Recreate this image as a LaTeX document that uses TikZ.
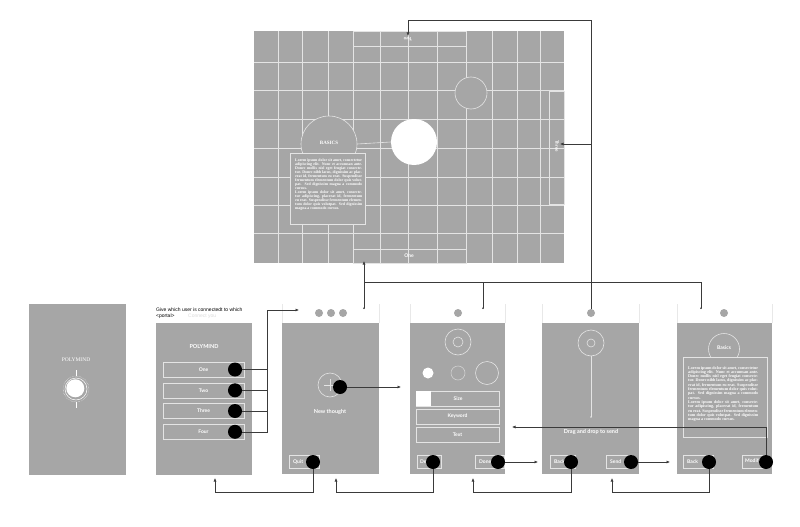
\documentclass[tikz,border=0pt]{standalone}
\usepackage{fontspec}
\setmainfont{Liberation Serif}
\newfontfamily\uisans{Lato}
\newfontfamily\hsans{Liberation Sans}
\newfontfamily\lorfont{Liberation Serif}
\usetikzlibrary{arrows.meta}
\definecolor{panel}{HTML}{A6A6A6}
\definecolor{wl}{HTML}{E4E4E4}
\definecolor{conn}{HTML}{3A3A3A}
\definecolor{hdr}{HTML}{E8E8E8}
\definecolor{faint}{HTML}{DADADA}
\newcommand{\lorem}{Lorem ipsum dolor sit amet, consectetur adipiscing elit. Nunc et accumsan ante. Donec mollis nisl eget feugiat consectetur. Donec nibh lacus, dignissim ac placerat id, fermentum eu erat. Suspendisse fermentum elementum dolor quis volutpat. Sed dignissim magna a commodo cursus.\\ Lorem ipsum dolor sit amet, consectetur adipiscing, placerat id, fermentum eu erat. Suspendisse fermentum elementum dolor quis volutpat. Sed dignissim magna a commodo cursus.}
\begin{document}
\begin{tikzpicture}[x=1pt,y=-1pt,
  scr/.style={fill=panel,draw=none,inner sep=0pt,outer sep=0pt},
  wbox/.style={draw=wl,line width=0.6pt,inner sep=0pt},
  btn/.style={draw=wl,line width=0.6pt,fill=panel,inner sep=0pt,text=white,font=\uisans\bfseries\fontsize{5}{6}\selectfont},
  lbl/.style={text=white,font=\uisans\bfseries\fontsize{5.5}{6}\selectfont,inner sep=0pt},
  blbl/.style={text=white,font=\uisans\bfseries\fontsize{5}{6}\selectfont,inner sep=0pt,anchor=west},
  bdot/.style={circle,fill=black,minimum size=14pt,inner sep=0pt},
  hdot/.style={circle,fill=panel,minimum size=8pt,inner sep=0pt},
  ring/.style={circle,draw=wl,line width=0.6pt,inner sep=0pt},
  conn/.style={draw=conn,line width=0.6pt},
  arr/.style={conn,-{Latex[length=3.5pt,width=3pt]}},
  tarr/.style={conn,{Circle[length=1.6pt]}-{Latex[length=3.5pt,width=3pt]}},
  gridl/.style={draw=wl,line width=0.5pt},
  hline/.style={draw=hdr,line width=0.7pt},
  lor/.style={text=white,font=\lorfont\bfseries\fontsize{3.9}{3.95}\selectfont,inner sep=0pt,align=justify},
]
\useasboundingbox (0,0) rectangle (800,527);
\fill[white] (0,0) rectangle (800,527);

% ---------- big panel ----------
\node[scr,minimum width=310pt,minimum height=232pt] (panel) at (409,147) {};
\foreach \x in {278,302,328,353,380,408,437,466,492,517,540} \draw[gridl] (\x,31) -- (\x,263);
\foreach \y in {62,90,119,148,177,205,233} \draw[gridl] (254,\y) -- (564,\y);
\node[wbox,minimum width=113pt,minimum height=15pt] (two) at (409.5,38.5) {};
\node[lbl,rotate=180,font=\uisans\bfseries\fontsize{4.5}{5}\selectfont] (twot) at (408,39) {Two};
\node[wbox,minimum width=15pt,minimum height=113pt] (three) at (556.5,147.5) {};
\node[lbl,rotate=-90,font=\uisans\bfseries\fontsize{4.5}{5}\selectfont] (threet) at (557,146) {Three};
\node[wbox,minimum width=113pt,minimum height=14pt] (one) at (409.5,256) {};
\node[lbl,font=\uisans\bfseries\fontsize{5}{6}\selectfont] (onet) at (409,256) {One};
\node[ring,fill=panel,minimum size=32pt] (smallc) at (471,93) {};
\node[ring,fill=panel,minimum size=56pt] (basicsc) at (329,144) {};
\node[circle,fill=white,minimum size=46pt,inner sep=0pt] (whitec) at (414,142) {};
\draw[wl,line width=0.6pt] (basicsc.east) -- (whitec.west);
\node[text=white,font=\lorfont\bfseries\fontsize{5}{6}\selectfont,inner sep=0pt] (basicst) at (329,143) {BASICS};
\node[wbox,fill=panel,minimum width=75pt,minimum height=71pt] (lbox) at (327.5,188.5) {};
\node[lor,anchor=north west,text width=67pt] (lt1) at (295,159) {\lorem};

% ---------- screen 1 ----------
\node[scr,minimum width=97pt,minimum height=171pt] (s1) at (77.5,389.5) {};
\node[text=white,font=\lorfont\fontsize{5.5}{6}\selectfont,inner sep=0pt] (pm1) at (76,360) {POLYMIND};
\draw[white,densely dotted,line width=0.4pt] (76,389) circle[radius=13pt];
\draw[white,line width=0.5pt] (76,389) circle[radius=11pt];
\fill[white] (75.3,388.3) circle[radius=9pt];
\draw[white,line width=0.4pt] (76,370) -- (76,376) (76,402) -- (76,408);

% ---------- screen 2 ----------
\node[scr,minimum width=96pt,minimum height=152pt] (s2) at (204,399) {};
\node[anchor=west,inner sep=0pt,font=\hsans\fontsize{5}{6}\selectfont] (q1) at (156,310) {Give which user is connectedt to which};
\node[anchor=west,inner sep=0pt,font=\hsans\fontsize{5}{6}\selectfont] (q2) at (156,316.5) {<portal>};
\node[anchor=west,inner sep=0pt,text=faint,font=\hsans\fontsize{5}{6}\selectfont] (q3) at (188,316.5) {Connect you};
\node[lbl] (pm2) at (204,347) {POLYMIND};
\node[btn,minimum width=81pt,minimum height=15pt] (bOne) at (203.5,369.5) {One};
\node[btn,minimum width=81pt,minimum height=15pt] (bTwo) at (203.5,390.3) {Two};
\node[btn,minimum width=81pt,minimum height=15pt] (bThree) at (203.5,411) {Three};
\node[btn,minimum width=81pt,minimum height=15pt] (bFour) at (203.5,431.8) {Four};
\node[bdot] (dOne) at (235,369.5) {};
\node[bdot] (dTwo) at (235,390.3) {};
\node[bdot] (dThree) at (235,411) {};
\node[bdot] (dFour) at (235,431.8) {};

% ---------- screen 3 ----------
\node[scr,minimum width=97pt,minimum height=151pt] (s3) at (330.5,398.5) {};
\draw[hline] (s3.north west) -- ++(0,-19) (s3.north east) -- ++(0,-19);
\node[hdot] (h3a) at (319,313) {};
\node[hdot] (h3b) at (331,313) {};
\node[hdot] (h3c) at (343,313) {};
\node[ring,minimum size=24pt] (plusc) at (330,385) {};
\draw[wl,line width=0.5pt] (324,385) -- (336,385) (330,379) -- (330,391);
\node[lbl] (nt) at (330,412) {New thought};
\node[btn,minimum width=30pt,minimum height=13pt] (bQuit) at (304,461.5) {};
\node[blbl] (tQuit) at (293,461.5) {Quit};

% ---------- screen 4 ----------
\node[scr,minimum width=95pt,minimum height=151pt] (s4) at (457.5,398.5) {};
\draw[hline] (s4.north west) -- ++(0,-19) (s4.north east) -- ++(0,-19);
\node[hdot] (h4a) at (458,313) {};
\node[ring,minimum size=26pt] (tg4) at (458,342) {};
\node[ring,minimum size=10pt] (tg4i) at (458,342) {};
\node[circle,fill=white,minimum size=11pt,inner sep=0pt] (c4a) at (428,373) {};
\node[ring,minimum size=14pt,draw=wl!70!panel] (c4b) at (458,373) {};
\node[ring,minimum size=23pt] (c4c) at (487,373) {};
\node[btn,minimum width=83pt,minimum height=15pt] (bSize) at (457.5,398.5) {};
\fill[white] (bSize.north west) rectangle ++(15,15);
\node[lbl,font=\uisans\bfseries\fontsize{5}{6}\selectfont] (tSize) at (458,398.5) {Size};
\node[btn,minimum width=83pt,minimum height=15pt] (bKey) at (457.5,416.5) {Keyword};
\node[btn,minimum width=83pt,minimum height=15pt] (bText) at (457.5,434.5) {Text};
\node[btn,minimum width=24pt,minimum height=13pt] (bDel) at (429,461.5) {};
\node[blbl] (tDel) at (420,461.5) {Delete};
\node[btn,minimum width=29pt,minimum height=13pt] (bDone) at (489.5,461.5) {};
\node[blbl] (tDone) at (479,461.5) {Done};

% ---------- screen 5 ----------
\node[scr,minimum width=97pt,minimum height=151pt] (s5) at (590.5,398.5) {};
\draw[hline] (s5.north west) -- ++(0,-19) (s5.north east) -- ++(0,-19);
\node[hdot] (h5a) at (591,313) {};
\node[ring,minimum size=26pt] (tg5) at (591,343) {};
\node[ring,minimum size=8pt] (tg5i) at (591,343) {};
\draw[wl,line width=0.4pt] (tg5.south) -- (591,417);
\fill[wl] (591,417) circle[radius=0.8pt];
\node[lbl] (dd) at (591,432) {Drag and drop to send};
\node[btn,minimum width=25pt,minimum height=13pt] (bBack5) at (562.5,461.5) {};
\node[blbl] (tBack5) at (554,461.5) {Back};
\node[btn,minimum width=26pt,minimum height=13pt] (bSend) at (619,461.5) {};
\node[blbl] (tSend) at (610,461.5) {Send};

% ---------- screen 6 ----------
\node[scr,minimum width=95pt,minimum height=151pt] (s6) at (724.5,398.5) {};
\draw[hline] (s6.north west) -- ++(0,-19) (s6.north east) -- ++(0,-19);
\node[hdot] (h6a) at (724,313) {};
\node[ring,minimum size=31pt] (bas6) at (724,349) {};
\node[wbox,fill=panel,minimum width=84pt,minimum height=80pt] (lbox6) at (725,397) {};
\node[lbl,font=\uisans\bfseries\fontsize{5}{6}\selectfont] (bas6t) at (724,348) {Basics};
\node[lor,anchor=north west,text width=70pt,font=\lorfont\bfseries\fontsize{4.1}{4.3}\selectfont] (lt2) at (688,366) {\lorem};
\node[btn,minimum width=30pt,minimum height=13pt] (bBack6) at (698,461.5) {};
\node[blbl] (tBack6) at (687,461.5) {Back};
\node[btn,minimum width=26pt,minimum height=13pt] (bMod) at (755,461.5) {};
\node[blbl] (tMod) at (745,461.5) {Modify};

% ---------- dots on buttons ----------
\node[bdot] (dPlus) at (340,387) {};
\node[bdot] (dQuit) at (313,462) {};
\node[bdot] (dDel) at (433,462) {};
\node[bdot] (dDone) at (498,462) {};
\node[bdot] (dBack5) at (571,462) {};
\node[bdot] (dSend) at (631,462) {};
\node[bdot] (dBack6) at (709,462) {};
\node[bdot] (dMod) at (766,462) {};

% ---------- connector coordinates ----------
\coordinate (busP) at (267,310);
\coordinate (s3in) at (299,310);
\coordinate (low) at (0,492);
\coordinate (s2bot) at (215,478);
\coordinate (s3bot) at (336,478);
\coordinate (s4bot) at (473,478);
\coordinate (s5bot) at (612,478);
\coordinate (s4left) at (401,387);
\coordinate (s5in) at (538,462);
\coordinate (s6in) at (670,462);
\coordinate (s4right) at (512,427);
\coordinate (h3) at (364,309);
\coordinate (h4) at (483,309);
\coordinate (h5) at (591,309);
\coordinate (h6) at (701,309);
\coordinate (bus) at (0,282);
\coordinate (topy) at (0,20);
\coordinate (pOne) at (364,261);
\coordinate (pTwo) at (408,36);
\coordinate (pThree) at (560,144);

% ---------- connectors ----------
\draw[conn] (dOne) -- (dOne -| busP);
\draw[conn] (dTwo) -- (dTwo -| busP);
\draw[conn] (dThree) -- (dThree -| busP);
\draw[arr] (dFour) -| (busP) -- (s3in);
\draw[arr] (dQuit) -- (dQuit |- low) -| (s2bot);
\draw[arr] (dPlus) -- (s4left);
\draw[arr] (dDel) -- (dDel |- low) -| (s3bot);
\draw[arr] (dDone) -- (s5in);
\draw[arr] (dBack5) -- (dBack5 |- low) -| (s4bot);
\draw[arr] (dSend) -- (s6in);
\draw[arr] (dBack6) -- (dBack6 |- low) -| (s5bot);
\draw[arr] (dMod) |- (s4right);
\draw[tarr] (h3) -- (pOne);
\draw[conn] (h3 |- bus) -- (h6 |- bus);
\draw[conn,{Circle[length=1.6pt]}-] (h4) -- (h4 |- bus);
\draw[conn,{Circle[length=1.6pt]}-] (h6) -- (h6 |- bus);
\draw[arr] (h5) -- (h5 |- topy) -| (pTwo);
\draw[arr] (h5 |- pThree) -- (pThree);
\end{tikzpicture}
\end{document}
